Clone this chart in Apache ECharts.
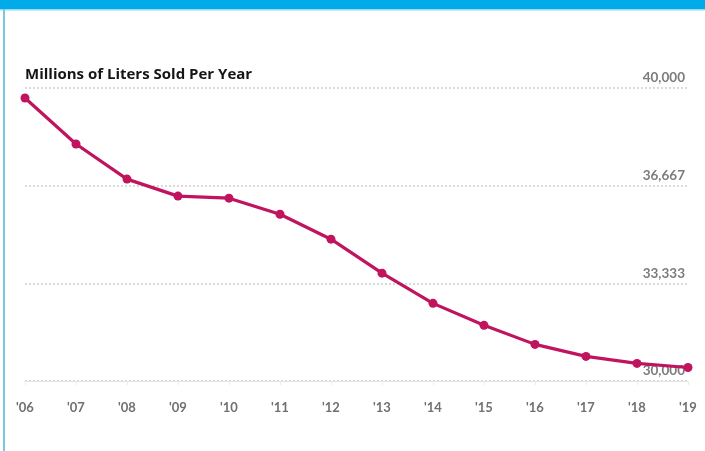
<!DOCTYPE html>
<html>
<head>
<meta charset="utf-8">
<script src="https://cdn.jsdelivr.net/npm/echarts@6/dist/echarts.min.js"></script>
<style>
  html, body { margin: 0; padding: 0; background: #ffffff; }
  #chart { width: 705px; height: 451px; }
</style>
</head>
<body>
<div id="chart"></div>
<script>
// Annual sales, millions of liters
const years = ["'06", "'07", "'08", "'09", "'10", "'11", "'12", "'13", "'14", "'15", "'16", "'17", "'18", "'19"];
const litersSold = [39660, 38090, 36890, 36310, 36240, 35690, 34840, 33680, 32650, 31900, 31250, 30840, 30600, 30460];
const yMin = 30000;
const yMax = 40000;
const yStep = 10000 / 3;
const chartTitle = 'Millions of Liters Sold Per Year';

const chart = echarts.init(document.getElementById('chart'));

chart.setOption({
  backgroundColor: '#ffffff',
  animation: false,
  graphic: [
    { type: 'rect', shape: { x: 0, y: 0, width: 705, height: 9 }, style: { fill: '#00abe8' } },
    { type: 'rect', shape: { x: 0, y: 9, width: 705, height: 1.5 }, style: { fill: '#8fdcf3' } },
    { type: 'rect', shape: { x: 3, y: 9, width: 2, height: 442 }, style: { fill: '#7cc9de' } },
    {
      type: 'text', left: 25, top: 67,
      style: {
        text: chartTitle, fill: '#151515',
        font: 'bold 15px "Open Sans", Lato, sans-serif'
      }
    }
  ],
  grid: { left: 25, right: 17, top: 88, bottom: 70 },
  xAxis: {
    type: 'category',
    data: years,
    boundaryGap: false,
    axisLine: { show: true, lineStyle: { color: '#e4e4e4', width: 1 } },
    axisTick: { show: true, alignWithLabel: true, length: 4, lineStyle: { color: '#ececec' } },
    axisLabel: {
      color: '#707070', fontSize: 13, margin: 20, fontWeight: 'bold',
      fontFamily: 'Lato, "Open Sans", sans-serif'
    },
    splitLine: { show: false }
  },
  yAxis: {
    type: 'value',
    position: 'right',
    min: yMin,
    max: yMax,
    interval: yStep,
    axisLine: { show: false },
    axisTick: { show: false },
    axisLabel: {
      inside: true,
      margin: 3,
      verticalAlign: 'bottom',
      padding: [0, 0, 3, 0],
      color: '#7c7c7c',
      fontSize: 13.5,
      fontWeight: 'bold',
      fontFamily: 'Lato, "Open Sans", sans-serif',
      formatter: v => Math.round(v).toLocaleString('en-US')
    },
    splitLine: {
      show: true,
      lineStyle: { color: '#cdcdcd', type: [2, 2], width: 1.5 }
    }
  },
  series: [{
    type: 'line',
    data: litersSold,
    smooth: false,
    symbol: 'circle',
    symbolSize: 9,
    lineStyle: { color: '#c0145e', width: 3.2 },
    itemStyle: { color: '#c0145e' },
    z: 5
  }]
});
</script>
</body>
</html>
